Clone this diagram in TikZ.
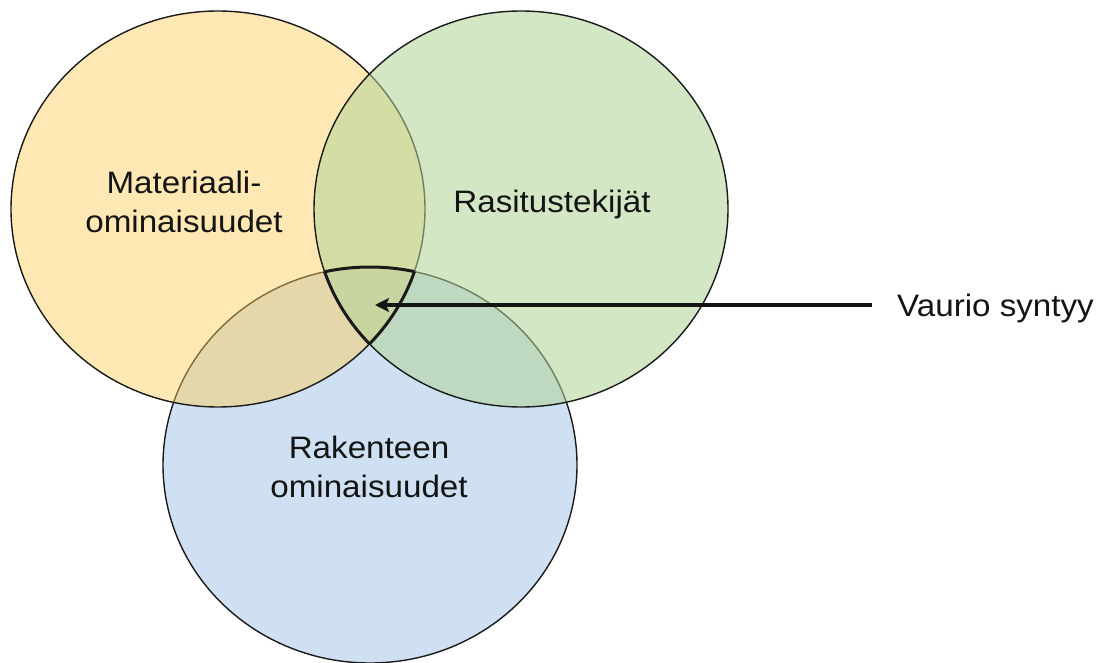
\documentclass[tikz,border=0pt]{standalone}
\usepackage{fontspec}
\setmainfont{Liberation Sans}[FakeStretch=1.07]
\usetikzlibrary{arrows.meta}
\definecolor{ycol}{RGB}{255,206,87}
\definecolor{gcol}{RGB}{178,213,151}
\definecolor{bcol}{RGB}{207,224,242}
\definecolor{edge}{RGB}{26,26,26}
\tikzset{
  setcircle/.style={draw=edge, line width=1.4pt},
  lbl/.style={inner sep=0pt, align=center, text=black!92, font=\fontsize{31}{39}\selectfont},
  pointer/.style={draw=black!92, line width=3.5pt, -{Stealth[length=14pt,width=14pt,inset=3pt]}},
}
\begin{document}
\begin{tikzpicture}[x=1pt,y=-1pt]
\useasboundingbox (0,0) rectangle (1105,663);
\fill[white] (0,0) rectangle (1105,663);
% circles: blue first, then yellow, then green
\coordinate (cb) at (370,465);
\coordinate (cy) at (218,209);
\coordinate (cg) at (521,209);
\path[setcircle, fill=bcol] (cb) ellipse [x radius=207pt, y radius=198pt];
\path[setcircle, fill=ycol, fill opacity=0.45] (cy) ellipse [x radius=207pt, y radius=198pt];
\path[setcircle, fill=gcol, fill opacity=0.55] (cg) ellipse [x radius=207pt, y radius=198pt];
% thick outline of the common region
\begin{scope}
  \clip (cy) ellipse [x radius=207pt, y radius=198pt];
  \clip (cg) ellipse [x radius=207pt, y radius=198pt];
  \draw[line width=3pt, edge] (cb) ellipse [x radius=207pt, y radius=198pt];
\end{scope}
\begin{scope}
  \clip (cg) ellipse [x radius=207pt, y radius=198pt];
  \clip (cb) ellipse [x radius=207pt, y radius=198pt];
  \draw[line width=3pt, edge] (cy) ellipse [x radius=207pt, y radius=198pt];
\end{scope}
\begin{scope}
  \clip (cy) ellipse [x radius=207pt, y radius=198pt];
  \clip (cb) ellipse [x radius=207pt, y radius=198pt];
  \draw[line width=3pt, edge] (cg) ellipse [x radius=207pt, y radius=198pt];
\end{scope}
% labels
\node[lbl, anchor=base] (mat) at (184,232) {Materiaali-\\ominaisuudet};
\node[lbl, anchor=base] (ras) at (552,212) {Rasitustekijät};
\node[lbl, anchor=base] (rak) at (369,497) {Rakenteen\\ominaisuudet};
\node[lbl, anchor=base west] (vau) at (897,316) {Vaurio syntyy};
\coordinate (hit) at (375,305);
\draw[pointer, shorten <=25pt] (vau.west |- hit) -- (hit);
\end{tikzpicture}
\end{document}
